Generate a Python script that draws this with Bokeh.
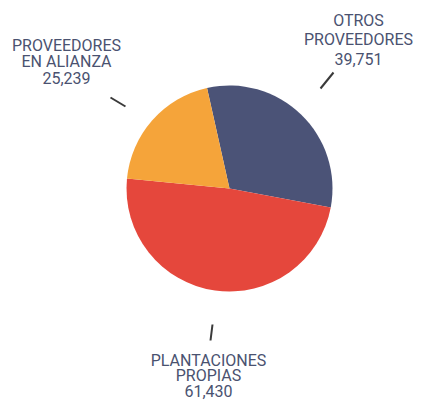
import math
from bokeh.plotting import figure
from bokeh.models import Range1d
from bokeh.core.properties import value
from bokeh.embed import file_html
from bokeh.resources import INLINE

# ---- data ----
categories = ["OTROS PROVEEDORES", "PLANTACIONES PROPIAS", "PROVEEDORES EN ALIANZA"]
label_lines = [["OTROS", "PROVEEDORES"], ["PLANTACIONES", "PROPIAS"], ["PROVEEDORES", "EN ALIANZA"]]
values = [39751, 61430, 25239]
value_labels = ["39,751", "61,430", "25,239"]
colors = ["#4b5377", "#e5473c", "#f5a43a"]

# ---- layout (screen pixel coords, y downwards) ----
W, H = 414, 404
def Y(y_img):
    return H - y_img

p = figure(width=W, height=H, output_backend="svg", toolbar_location=None,
           x_range=Range1d(0, W), y_range=Range1d(0, H),
           min_border=0, background_fill_color="white", border_fill_color="white")
p.axis.visible = False
p.grid.visible = False
p.outline_line_color = None

cx, cy, r = 229, 188, 103
start0 = 102.6
total = sum(values)
starts, ends = [], []
a = start0
for v in values:
    starts.append(math.radians(a))
    a -= v / total * 360.0
    ends.append(math.radians(a))

p.wedge(x=[cx] * 3, y=[Y(cy)] * 3, radius=r, start_angle=starts, end_angle=ends,
        direction="clock", fill_color=colors, line_color=None)

text_color = "#4a5270"
font = value("Roboto")
# label block positions: (center x, first line y, line spacing, font size)
blocks = [(358, 20, 19, "16px"), (208, 360, 15, "16px"), (66, 45, 16, "16px")]
for (bx, by, sp, fs), lines, vl in zip(blocks, label_lines, value_labels):
    all_lines = lines + [vl]
    p.text(x=[bx] * len(all_lines), y=[Y(by + i * sp) for i in range(len(all_lines))],
           text=all_lines, text_align="center", text_baseline="middle",
           text_font=font, text_font_size=fs, text_color=text_color)

# leader ticks
ticks = [((320, 88), (333, 72)), ((210, 340), (212, 324)), ((110, 97), (125, 106))]
for (x0, y0), (x1, y1) in ticks:
    p.line([x0, x1], [Y(y0), Y(y1)], line_color="#3a3a3a", line_width=2)

open("out.html", "w").write(file_html(p, INLINE))
